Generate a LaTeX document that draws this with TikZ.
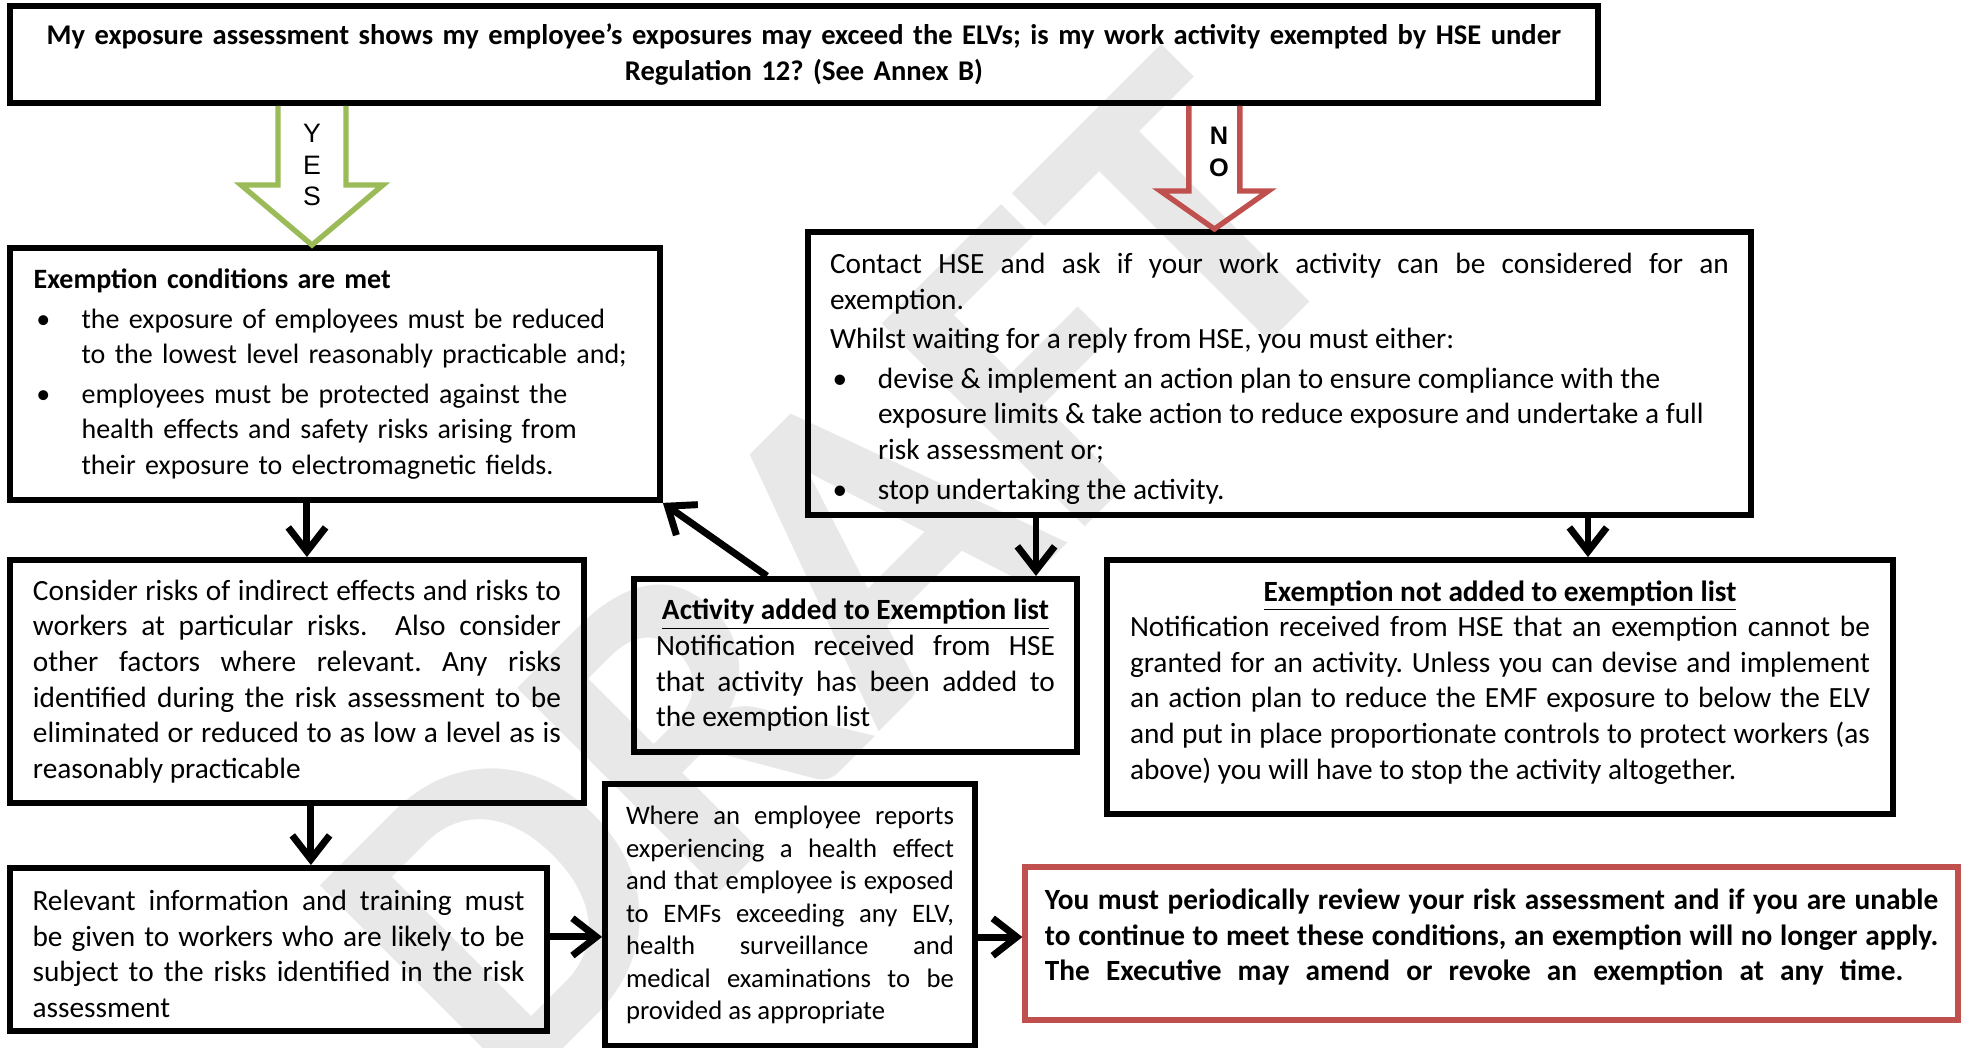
\documentclass[tikz,border=0pt]{standalone}
\usepackage{fontspec}
\setmainfont{Carlito}
\newfontfamily\arialfont{Liberation Sans}
\usetikzlibrary{positioning,calc,arrows.meta}
\definecolor{yesgreen}{RGB}{155,187,89}
\definecolor{nored}{RGB}{192,80,77}
\newcommand{\bodysize}{\fontsize{11}{13.35}\selectfont}
\newcommand{\smallsize}{\fontsize{10}{12.2}\selectfont}
\newcommand{\bitem}[2][1pt]{\par\hangindent=18pt\hangafter=1\noindent\makebox[18pt][l]{\hspace{#1}\textbullet}#2\par}
\hyphenpenalty=10000 \exhyphenpenalty=10000 \tolerance=10000 \hbadness=10000
\frenchspacing
\tikzstyle{infobox} = [draw,line width=2.2pt,inner sep=4pt,align=justify]
\tikzstyle{flowarrow} = [line width=2.6pt,-{Straight Barb[length=9pt,width=14pt]}]
\tikzstyle{yesarrow} = [draw=yesgreen,line width=2pt]
\tikzstyle{noarrow} = [draw=nored,line width=2pt]
\tikzstyle{draftmark} = [rotate=45,text=gray!18,font=\fontsize{166}{166}\selectfont\bfseries,inner sep=0pt]

\begin{document}
\begin{tikzpicture}[x=0.375pt,y=0.375pt,on grid,font=\bodysize]
\useasboundingbox (0,0) rectangle (1964,-1048);
	\node[draftmark] (wm) at (835,-574) {DRAFT};
	\node[infobox,align=center,inner xsep=2pt,text width=590pt,minimum width=595.5pt,minimum height=36.4pt,font=\fontsize{10.7}{13.6}\selectfont\bfseries] (b_q) at (804,-54.5) {My exposure assessment shows my employee’s exposures may exceed the ELVs; is my work activity exempted by HSE under\\ Regulation 12? (See Annex B)};
	\node[infobox,align=left,text width=232pt,minimum width=243.75pt,minimum height=94.5pt,font=\fontsize{10.5}{13.35}\selectfont][below left=119.8pt and 175.9pt of b_q] (b_met) {\setlength{\parskip}{1.5pt}\leftskip=3pt\textbf{Exemption conditions are met}
		\bitem{the exposure of employees must be reduced\newline to the lowest level reasonably practicable and;}
		\bitem{employees must be protected against the\newline health effects and safety risks arising from\newline their exposure to electromagnetic fields.}};
	\node[infobox,inner ysep=2pt,text width=337.1pt,minimum width=353.6pt,minimum height=106.1pt][below right=119.6pt and 178.3pt of b_q] (b_hse) {\setlength{\parskip}{1.5pt}\rule{0pt}{11.5pt}Contact HSE and ask if your work activity can be considered for an\linebreak exemption.\par
		Whilst waiting for a reply from HSE, you must either:
		\bitem[1pt]{devise \& implement an action plan to ensure compliance with the\newline exposure limits \& take action to reduce exposure and undertake a full\newline risk assessment or;}
		\bitem[1pt]{stop undertaking the activity.}};
	\node[infobox,text width=198pt,minimum width=215.25pt,minimum height=91.1pt][below left=115.3pt and 14.25pt of b_met] (b_risk) {Consider risks of indirect effects and risks to\linebreak workers at particular risks.~ Also consider\linebreak other factors where relevant. Any risks\linebreak identified during the risk assessment to be\linebreak eliminated or reduced to as low a level as is\linebreak reasonably practicable};
	\node[infobox,text width=149.6pt,minimum width=166.1pt,minimum height=64.9pt][below left=109.5pt and 159pt of b_hse] (b_added) {{\centering\textbf{\underline{Activity added to Exemption list}}\par}
		Notification received from HSE\linebreak that activity has been added to\linebreak the exemption list};
	\node[infobox,text width=277.5pt,minimum width=294.75pt,minimum height=95.25pt][below right=117.6pt and 82.7pt of b_hse] (b_notadded) {{\centering\textbf{\underline{Exemption not added to exemption list}}\par}
		Notification received from HSE that an exemption cannot be\linebreak granted for an activity. Unless you can devise and implement\linebreak an action plan to reduce the EMF exposure to below the ELV\linebreak and put in place proportionate controls to protect workers (as\linebreak above) you will have to stop the activity altogether.\rule[-5.5pt]{0pt}{0pt}};
	\node[infobox,text width=184.5pt,minimum width=201.4pt,minimum height=61.1pt][below left=100.5pt and 6.9pt of b_risk] (b_train) {\rule{0pt}{11pt}Relevant information and training must\linebreak be given to workers who are likely to be\linebreak subject to the risks identified in the risk\linebreak assessment};
	\node[infobox,font=\smallsize,text width=123pt,minimum width=138.75pt,minimum height=98.25pt][above right=12.9pt and 191.8pt of b_train] (b_health) {Where an employee reports\linebreak experiencing a health effect\linebreak and that employee is exposed\linebreak to EMFs exceeding any ELV,\linebreak health surveillance and\linebreak medical examinations to be\linebreak provided as appropriate};
	\node[infobox,draw=nored,line width=2pt,font=\bodysize\bfseries,text width=335pt,minimum width=349.9pt,minimum height=57.4pt][below right=10.7pt and 263.1pt of b_health] (b_review) {You must periodically review your risk assessment and if you are unable\linebreak to continue to meet these conditions, an exemption will no longer apply.\linebreak \makebox[322pt][s]{The Executive may amend or revoke an exemption at any time.}\rule[-6.5pt]{0pt}{0pt}};
	% yes / no block arrows
	\coordinate (yes_top) at ([xshift=-184.5pt]b_q.south);
	\coordinate (no_top) at ([xshift=153.9pt]b_q.south);
	\draw[yesarrow] ($(yes_top)+(-34,0)$) -- ++(0,-79) -- ++(-37,0) -- (yes_top |- b_met.north) -- ($(yes_top)+(71,-79)$) -- ++(-37,0) -- ++(0,79);
	\draw[noarrow] ($(no_top)+(-25.5,0)$) -- ++(0,-85) -- ++(-28.5,0) -- (no_top |- b_hse.north) -- ($(no_top)+(54,-85)$) -- ++(-28.5,0) -- ++(0,85);
	\node[font=\arialfont\fontsize{10}{11.8}\selectfont,align=center] (yes_lbl) at ($(yes_top)+(0,-59)$) {Y\\E\\S};
	\node[font=\arialfont\bfseries\fontsize{9.5}{12}\selectfont,align=center] (no_lbl) at ($(no_top)+(4.5,-46)$) {N\\O};
	\path[flowarrow]
	([xshift=-10.5pt]b_met.south) edge ([xshift=-10.5pt]b_met.south |- b_risk.north)
	([xshift=5.25pt]b_risk.south) edge ([xshift=5.25pt]b_risk.south |- b_train.north)
	([yshift=4.7pt]b_train.east) edge ([yshift=4.7pt]b_train.east -| b_health.west)
	([yshift=-8.25pt]b_health.east) edge ([yshift=-8.25pt]b_health.east -| b_review.west)
	([xshift=-33.2pt]b_added.north) edge (b_met.south east)
	([xshift=-91.3pt]b_hse.south) edge ([xshift=-91.3pt]b_hse.south |- b_added.north)
	([xshift=115.7pt]b_hse.south) edge ([xshift=115.7pt]b_hse.south |- b_notadded.north);
\end{tikzpicture}
\end{document}
